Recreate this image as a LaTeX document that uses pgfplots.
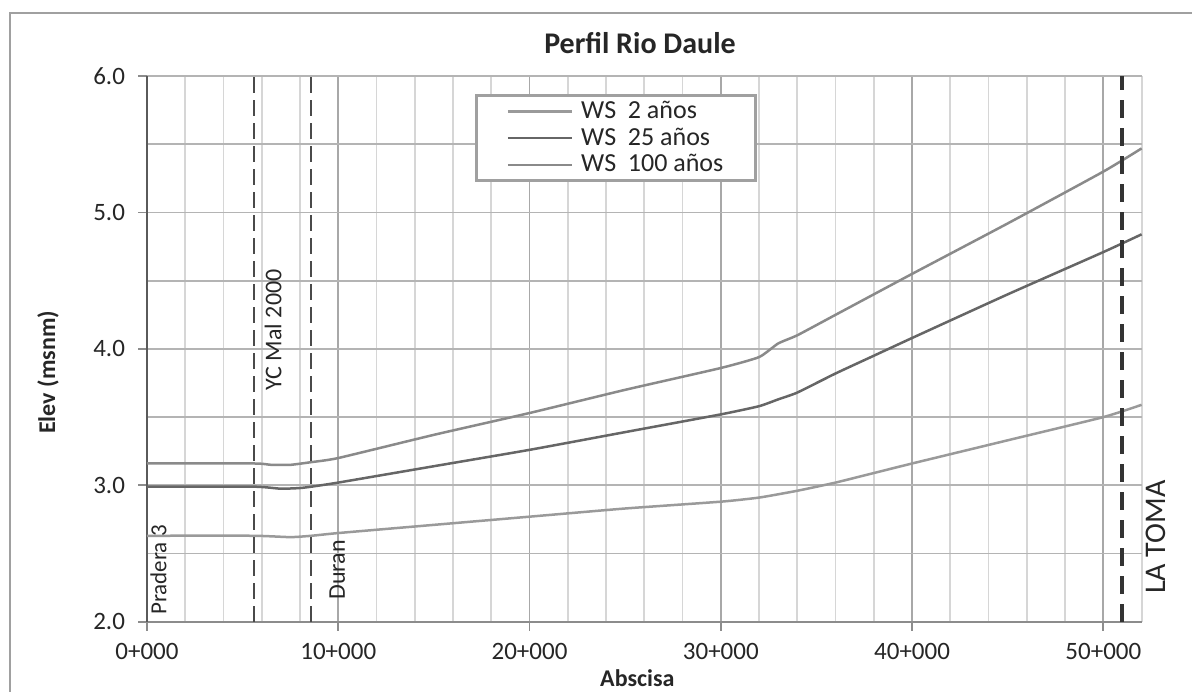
\documentclass[border=0pt]{standalone}
\usepackage{fontspec}
\setmainfont{Carlito}
\usepackage{pgfplots}
\pgfplotsset{compat=1.18}
\definecolor{gridmaj}{HTML}{A8A8A8}
\definecolor{gridmin}{HTML}{D6D6D6}
\definecolor{gridh}{HTML}{B4B4B4}
\definecolor{axisdark}{HTML}{5A5A5A}
\definecolor{axisgray}{HTML}{8C8C8C}
\definecolor{frame}{HTML}{A0A0A0}
\definecolor{ctop}{HTML}{8A8A8A}
\definecolor{cmid}{HTML}{666666}
\definecolor{cbot}{HTML}{9A9A9A}
\definecolor{dashc}{HTML}{4A4A4A}
\definecolor{tomac}{HTML}{333333}
\definecolor{txt}{HTML}{262626}
\begin{document}
\begin{tikzpicture}
\useasboundingbox (-73.5pt,-34.65pt) rectangle (522.5pt,310.85pt);
\draw[color=frame, line width=1.3pt] (-68.5pt,-40pt) -- (-68.5pt,304.35pt) -- (530pt,304.35pt);
\node[font=\bfseries\fontsize{15}{18}\selectfont, color=txt] at (246.5pt,289.4pt) {Perfil Rio Daule};
\begin{axis}[
  at={(0pt,0pt)}, anchor=south west,
  scale only axis, width=497.3pt, height=272.8pt,
  xmin=0, xmax=52000, ymin=2, ymax=6,
  clip=false,
  scaled x ticks=false, scaled y ticks=false,
  axis x line*=bottom, axis y line*=left,
  x axis line style={-, color=axisgray, line width=0.9pt},
  y axis line style={-, color=axisdark, line width=0.9pt},
  xtick={0,10000,20000,30000,40000,50000},
  xticklabels={0+000,10+000,20+000,30+000,40+000,50+000},
  minor xtick={2000,4000,6000,8000,12000,14000,16000,18000,22000,24000,26000,28000,32000,34000,36000,38000,42000,44000,46000,48000,52000},
  ytick={2,3,4,5,6},
  yticklabels={2.0,3.0,4.0,5.0,6.0},
  minor ytick={2.5,3.5,4.5,5.5},
  grid=both,
  major x grid style={color=gridmaj, line width=0.9pt},
  minor x grid style={color=gridmin, line width=0.9pt},
  major y grid style={color=gridh, line width=0.9pt},
  minor y grid style={color=gridh, line width=0.9pt},
  tick align=outside, major tick length=4.5pt, minor tick length=0pt,
  major tick style={color=axisgray, line width=0.9pt},
  tick label style={font=\fontsize{12.5}{15}\selectfont, color=txt},
  xticklabel style={yshift=-3pt},
  yticklabel style={xshift=-3pt},
  xlabel={Abscisa}, ylabel={Elev (msnm)},
  xlabel style={at={(axis description cs:0.493,0)}, anchor=center, yshift=-28pt, font=\bfseries\fontsize{12}{14}\selectfont, color=txt},
  ylabel style={at={(axis description cs:-0.0995,0.457)}, anchor=center, font=\bfseries\fontsize{12}{14}\selectfont, color=txt},
  legend cell align=left,
  legend style={at={(axis description cs:0.330,0.967)}, anchor=north west,
    draw=frame, line width=1.5pt, fill=white,
    font=\fontsize{13}{15}\selectfont, text=txt,
    inner xsep=15pt, inner ysep=1.5pt, row sep=0.3pt,
    nodes={inner sep=1pt, text height=9pt, text depth=2pt}},
  legend image code/.code={\draw[#1] (0pt,0pt) -- (32pt,0pt); \path (35pt,0pt);},
]
\addplot[cbot, line width=1.25pt, smooth, tension=0.3] coordinates {
(0,2.63) (5600,2.63) (7500,2.62) (8600,2.63) (10000,2.65) (15000,2.71) (20000,2.77) (25000,2.83) (30000,2.88) (32000,2.91) (34000,2.96) (36000,3.02) (38000,3.09) (40000,3.16) (45000,3.33) (50000,3.50) (52000,3.59)};
\addlegendentry{WS~~2 años}
\addplot[cmid, line width=1.25pt, smooth, tension=0.3] coordinates {
(0,2.99) (5600,2.99) (7000,2.975) (8000,2.98) (8600,2.99) (10000,3.02) (15000,3.14) (20000,3.26) (25000,3.39) (30000,3.52) (32000,3.58) (33000,3.63) (34000,3.68) (36000,3.82) (38000,3.95) (40000,4.08) (45000,4.40) (50000,4.71) (52000,4.84)};
\addlegendentry{WS~~25 años}
\addplot[ctop, line width=1.25pt, smooth, tension=0.3] coordinates {
(0,3.16) (5600,3.16) (6500,3.15) (7500,3.15) (8600,3.17) (10000,3.20) (15000,3.37) (20000,3.53) (25000,3.70) (30000,3.86) (32000,3.94) (33000,4.04) (34000,4.10) (36000,4.25) (40000,4.55) (45000,4.92) (50000,5.30) (52000,5.47)};
\addlegendentry{WS~~100 años}
\addplot[dashc, line width=1pt, dash pattern=on 8pt off 3.5pt, forget plot] coordinates {(5600,2) (5600,6)};
\addplot[dashc, line width=1pt, dash pattern=on 8pt off 3.5pt, forget plot] coordinates {(8600,2) (8600,6)};
\addplot[tomac, line width=2pt, dash pattern=on 9pt off 5pt, forget plot] coordinates {(51000,2) (51000,6)};
\node[rotate=90, font=\fontsize{11.5}{13}\selectfont, color=txt] at (axis cs:600,2.38) {Pradera 3};
\node[rotate=90, font=\fontsize{12}{14}\selectfont, color=txt] at (axis cs:6600,4.14) {YC Mal 2000};
\node[rotate=90, font=\fontsize{12}{14}\selectfont, color=txt] at (axis cs:9944,2.38) {Duran};
\node[rotate=90, font=\fontsize{15}{18}\selectfont, color=txt] at (axis cs:52760,2.62) {LA TOMA};
\end{axis}
\end{tikzpicture}
\end{document}
